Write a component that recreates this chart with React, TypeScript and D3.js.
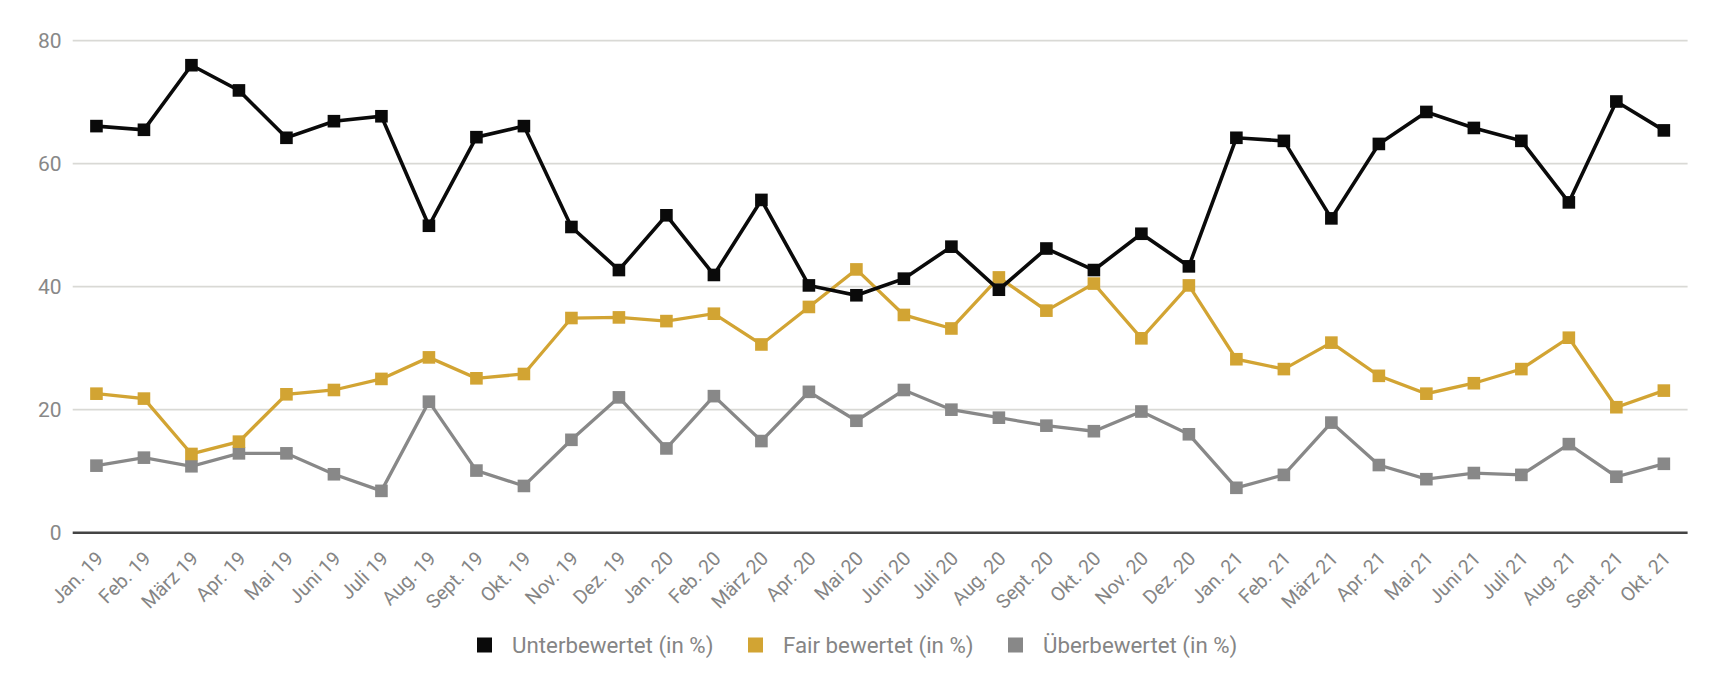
import React from "react";
import * as d3 from "d3";

const months: string[] = [
  "Jan. 19", "Feb. 19", "März 19", "Apr. 19", "Mai 19", "Juni 19", "Juli 19", "Aug. 19", "Sept. 19", "Okt. 19", "Nov. 19", "Dez. 19",
  "Jan. 20", "Feb. 20", "März 20", "Apr. 20", "Mai 20", "Juni 20", "Juli 20", "Aug. 20", "Sept. 20", "Okt. 20", "Nov. 20", "Dez. 20",
  "Jan. 21", "Feb. 21", "März 21", "Apr. 21", "Mai 21", "Juni 21", "Juli 21", "Aug. 21", "Sept. 21", "Okt. 21",
];

const unterbewertet: number[] = [
  66.1, 65.5, 76.0, 71.9, 64.2, 66.9, 67.7, 49.9, 64.3, 66.1, 49.7, 42.7,
  51.6, 41.9, 54.1, 40.2, 38.6, 41.3, 46.5, 39.5, 46.2, 42.7, 48.6, 43.3,
  64.2, 63.7, 51.1, 63.2, 68.4, 65.8, 63.7, 53.7, 70.1, 65.4,
];

const fairBewertet: number[] = [
  22.6, 21.8, 12.8, 14.8, 22.5, 23.2, 25.0, 28.5, 25.1, 25.8, 34.9, 35.0,
  34.4, 35.6, 30.6, 36.7, 42.8, 35.4, 33.2, 41.5, 36.1, 40.5, 31.6, 40.2,
  28.2, 26.6, 30.9, 25.5, 22.6, 24.3, 26.6, 31.7, 20.4, 23.1,
];

const ueberbewertet: number[] = [
  10.9, 12.2, 10.8, 12.9, 12.9, 9.5, 6.8, 21.3, 10.1, 7.6, 15.1, 22.0,
  13.7, 22.2, 14.9, 22.9, 18.2, 23.2, 20.0, 18.7, 17.4, 16.5, 19.7, 16.0,
  7.3, 9.4, 17.9, 11.0, 8.7, 9.7, 9.4, 14.4, 9.1, 11.2,
];

const yTicks: number[] = [0, 20, 40, 60, 80];

const seriesNames: string[] = ["Unterbewertet (in %)", "Fair bewertet (in %)", "Überbewertet (in %)"];
const seriesColors: string[] = ["#0a0a0a", "#d2a433", "#888888"];

const W = 1712;
const H = 686;
const FONT = "Roboto, 'Noto Sans', Arial, sans-serif";

export default function App() {
  const x = d3.scaleBand<string>().domain(months).range([72.7, 1687.6]);
  const y = d3.scaleLinear().domain([0, 80]).range([532.7, 40.6]);
  const cx = (m: string) => (x(m) as number) + x.bandwidth() / 2;

  const allSeries = [unterbewertet, fairBewertet, ueberbewertet];
  const line = d3
    .line<number>()
    .x((_, i) => cx(months[i]))
    .y((v) => y(v));

  const legendX = [477, 748, 1008];
  const legendY = 645;

  return (
    <div style={{ position: "fixed", left: 0, top: 0, width: W, height: H, background: "#fff" }}>
      <svg width={W} height={H} style={{ display: "block" }}>
        <rect x={0} y={0} width={W} height={H} fill="#ffffff" />
        {yTicks.map((t) => (
          <g key={t}>
            {t !== 0 && (
              <line x1={72.7} x2={1687.6} y1={y(t)} y2={y(t)} stroke="#d9d9d5" strokeWidth={1.8} />
            )}
            <text
              x={61.5}
              y={y(t)}
              dy="0.35em"
              textAnchor="end"
              fontFamily={FONT}
              fontSize={21}
              fill="#888888"
            >
              {t}
            </text>
          </g>
        ))}
        <line x1={72.7} x2={1687.6} y1={y(0)} y2={y(0)} stroke="#444444" strokeWidth={2.4} />
        {months.map((m) => (
          <text
            key={m}
            transform={`translate(${cx(m) + 8},${y(0) + 27}) rotate(-45)`}
            textAnchor="end"
            fontFamily={FONT}
            fontSize={19.5}
            fill="#858585"
          >
            {m}
          </text>
        ))}
        {[2, 1, 0].map((si) => (
          <g key={si}>
            <path
              d={line(allSeries[si]) as string}
              fill="none"
              stroke={seriesColors[si]}
              strokeWidth={si === 0 ? 3.6 : 3.3}
              strokeLinejoin="miter"
            />
            {allSeries[si].map((v, i) => (
              <rect
                key={i}
                x={cx(months[i]) - 6.3}
                y={y(v) - 6.3}
                width={12.6}
                height={12.6}
                fill={seriesColors[si]}
              />
            ))}
          </g>
        ))}
        {seriesNames.map((n, i) => (
          <g key={n}>
            <rect x={legendX[i]} y={legendY - 7.5} width={15} height={15} fill={seriesColors[i]} />
            <text
              x={legendX[i] + 35}
              y={legendY}
              dy="0.35em"
              fontFamily={FONT}
              fontSize={22.3}
              fill="#858585"
            >
              {n}
            </text>
          </g>
        ))}
      </svg>
    </div>
  );
}
